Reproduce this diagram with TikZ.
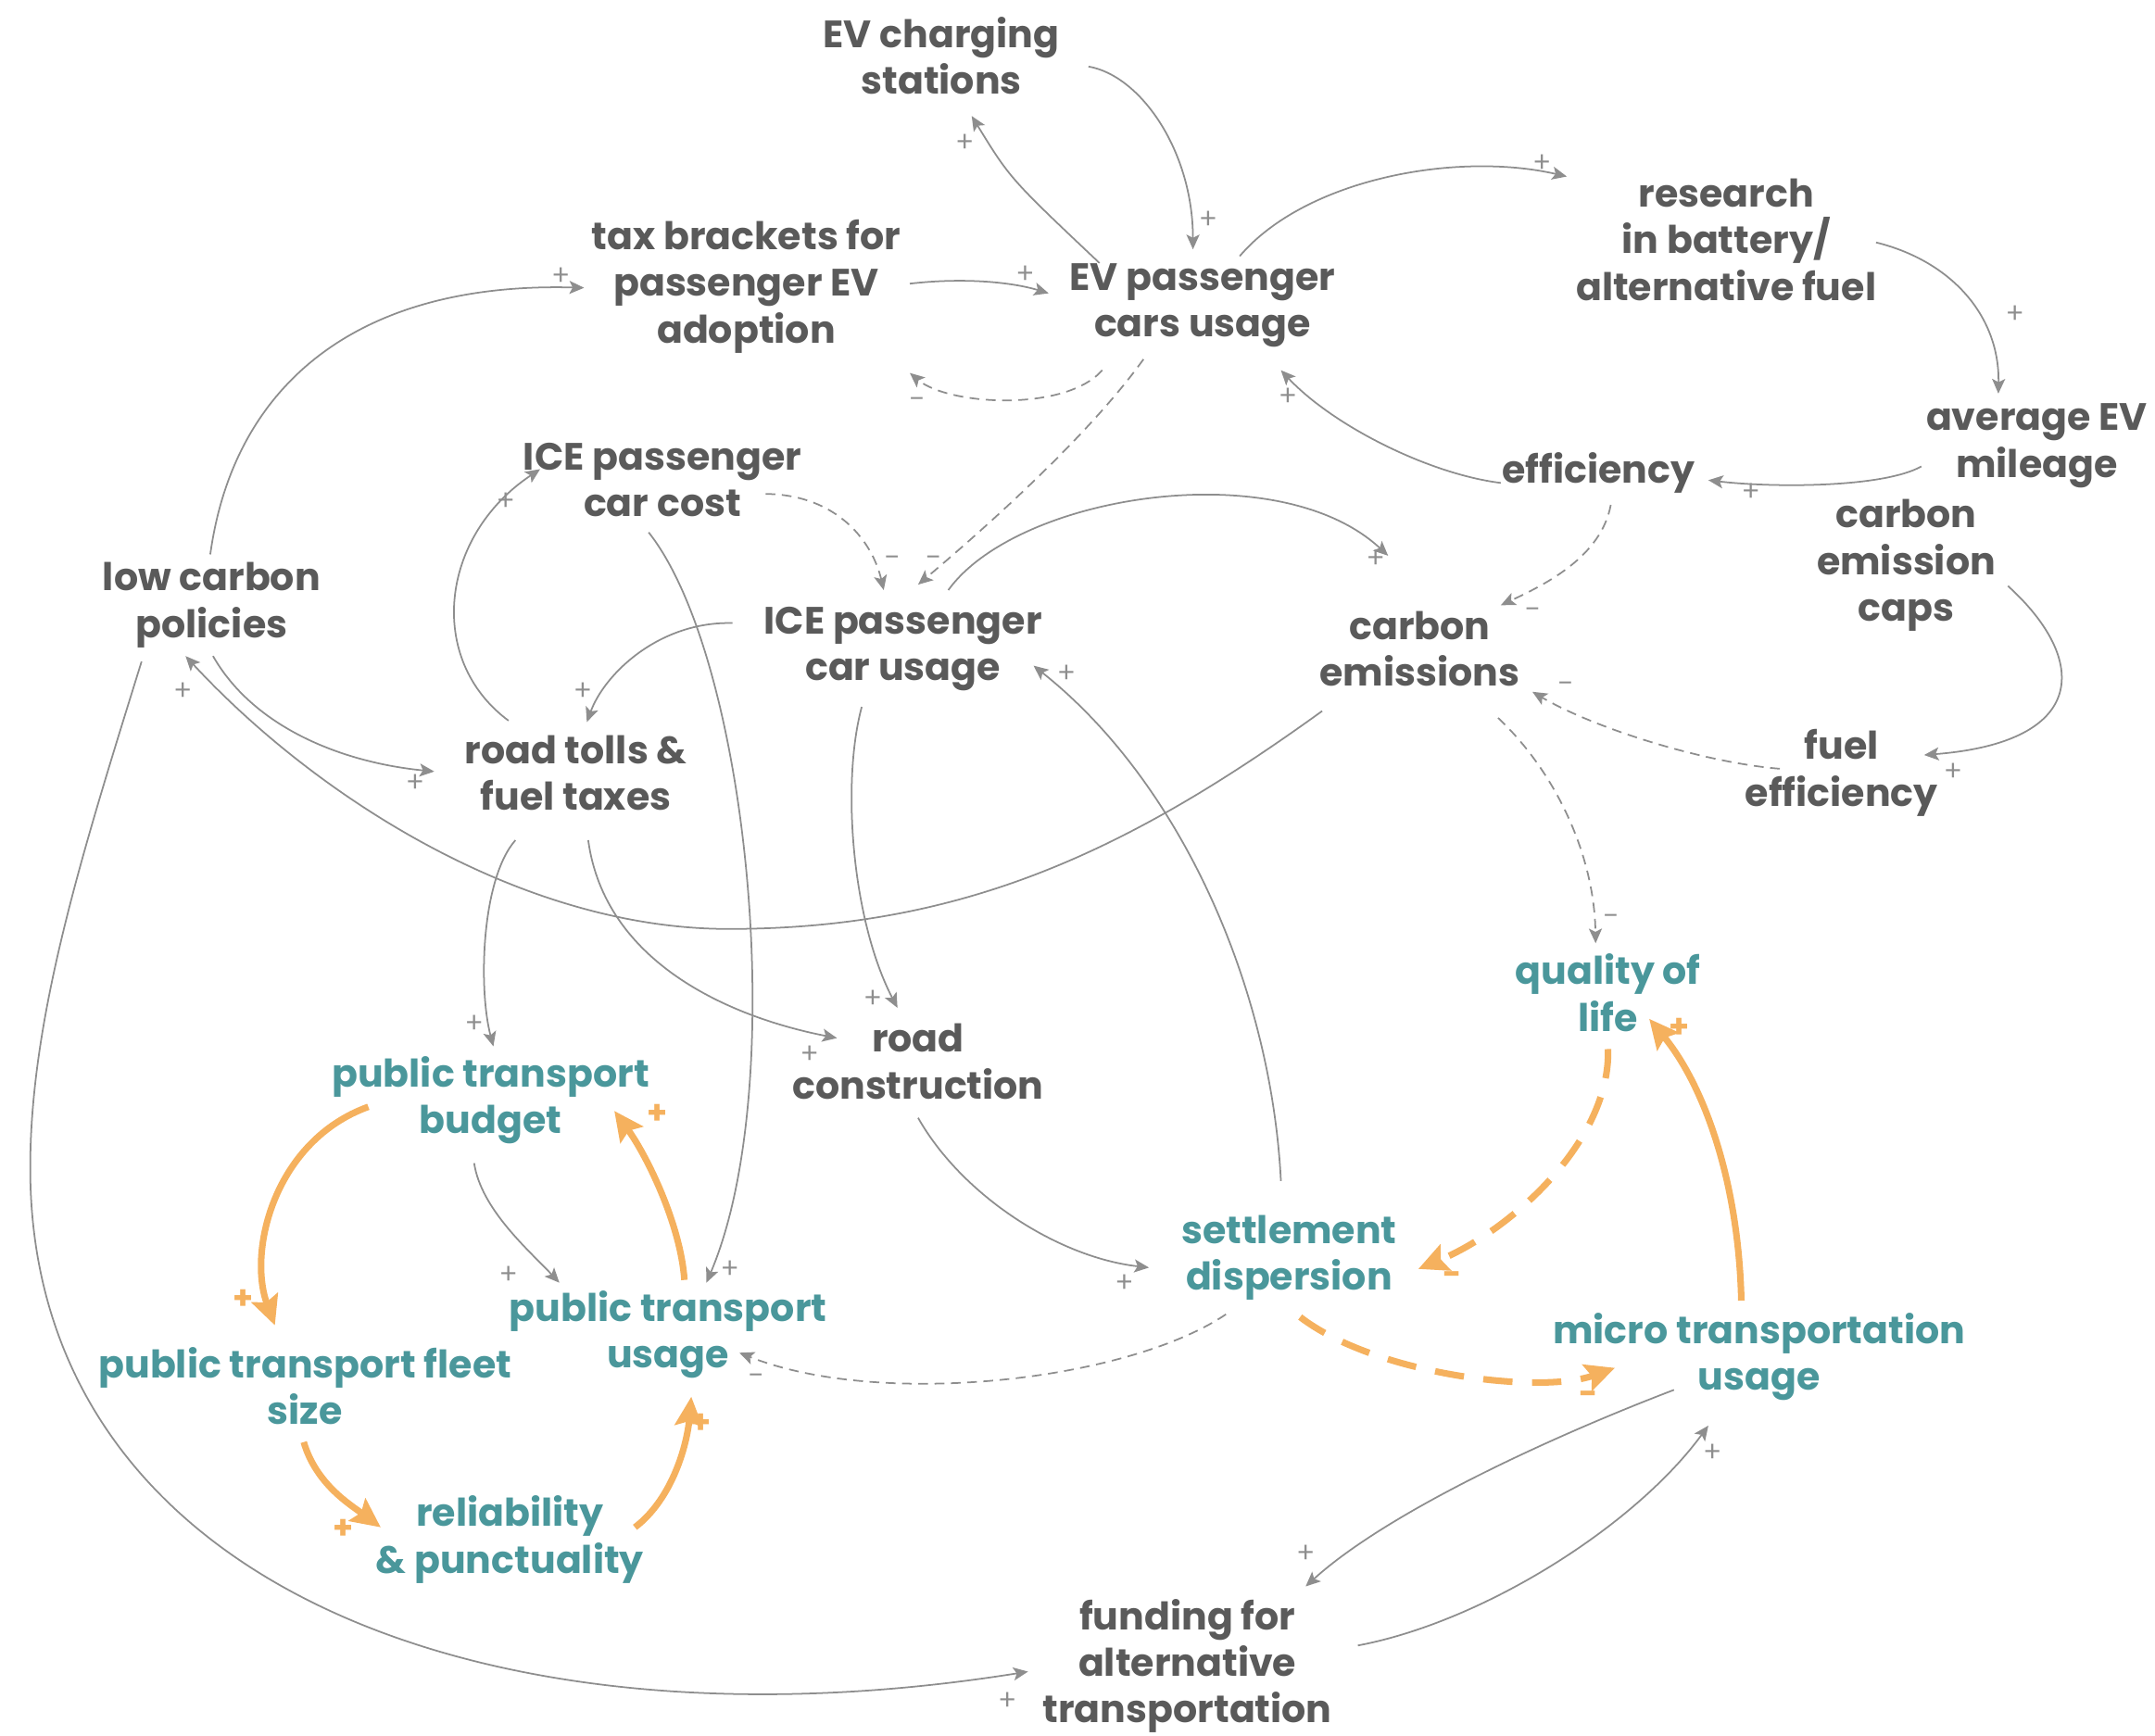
\documentclass[tikz,border=0pt]{standalone}
\usepackage{fontspec}
\setmainfont{Poppins}
\newfontfamily\signfont{Lato}
\usetikzlibrary{arrows.meta,calc}
\definecolor{txtgray}{HTML}{5A5A5A}
\definecolor{cteal}{HTML}{4A979B}
\definecolor{corange}{HTML}{F5B15E}
\definecolor{lgray}{HTML}{8E8E8E}
\begin{document}
\begin{tikzpicture}[x=0.014834cm,y=-0.014834cm,
  var/.style={font=\bfseries\fontsize{11.7}{14.3}\selectfont, align=center, text=txtgray, inner sep=0pt, yshift=-0.6pt},
  pvar/.style={var, text=cteal},
  link/.style={draw=lgray, line width=0.5pt, -{Stealth[length=4.5pt,width=4pt,inset=1pt]}},
  neg/.style={link, dash pattern=on 3pt off 2pt},
  olink/.style={draw=corange, line width=2pt, -{Stealth[length=9pt,width=8.5pt,inset=1.5pt]}},
  oneg/.style={olink, dash pattern=on 9pt off 6pt},
  sg/.style={font=\signfont\fontsize{9}{9}\selectfont, text=lgray, inner sep=0pt},
  osg/.style={font=\bfseries\fontsize{10}{10}\selectfont, text=corange, inner sep=0pt}]
\useasboundingbox (0,0) rectangle (1568,1263);
% nodes
\node[var] (evcs) at (685,39) {EV charging\\stations};
\node[var] (tax) at (543,207) {tax brackets for\\passenger EV\\adoption};
\node[var] (evu) at (875,221) {EV passenger\\cars usage};
\node[var] (res) at (1256,173) {research\\in battery/\\alternative fuel};
\node[var] (avg) at (1482,323) {average EV\\mileage};
\node[var] (eff) at (1163,343) {efficiency};
\node[var] (caps) at (1387,410) {carbon\\emission\\caps};
\node[var] (icec) at (482,348) {ICE passenger\\car cost};
\node[var] (lcp) at (154,439) {low carbon\\policies};
\node[var] (iceu) at (657,471) {ICE passenger\\car usage};
\node[var] (ce) at (1033,471) {carbon\\emissions};
\node[var] (toll) at (419,561) {road tolls \&\\fuel taxes};
\node[var] (fe) at (1340,561) {fuel\\efficiency};
\node[pvar] (qol) at (1170,721) {quality of\\life};
\node[var] (rc) at (668,771) {road\\construction};
\node[pvar] (ptb) at (357,799) {public transport\\budget};
\node[pvar] (sd) at (938,914) {settlement\\dispersion};
\node[pvar] (ptu) at (486,970) {public transport\\usage};
\node[pvar] (fleet) at (222,1007) {public transport fleet\\size};
\node[pvar] (micro) at (1280,986) {micro transportation\\usage};
\node[pvar] (rel) at (371,1119) {reliability\\\& punctuality};
\node[var] (fund) at (864,1211) {funding for\\alternative\\transportation};
% gray links
\draw[link] ($(evu)+(-75,-31)$) .. controls (735,130) .. ($(evcs)+(22,44)$);
\draw[link] ($(evcs)+(107,8)$) .. controls (830,55) and (868,110) .. ($(evu)+(-7,-41)$);
\draw[link] ($(tax)+(119,-2)$) .. controls (700,202) and (735,205) .. ($(evu)+(-112,-9)$);
\draw[neg] ($(evu)+(-73,47)$) .. controls (775,300) and (690,295) .. ($(tax)+(119,63)$);
\draw[link] ($(evu)+(27,-36)$) .. controls (950,130) and (1060,110) .. ($(res)+(-116,-46)$);
\draw[link] ($(res)+(109,2)$) .. controls (1420,190) and (1455,230) .. ($(avg)+(-28,-38)$);
\draw[link] ($(avg)+(-84,15)$) .. controls (1370,355) and (1290,355) .. ($(eff)+(80,5)$);
\draw[link] ($(eff)+(-71,7)$) .. controls (1040,345) and (970,310) .. ($(evu)+(57,47)$);
\draw[neg] ($(eff)+(9,23)$) .. controls (1165,405) and (1125,425) .. ($(ce)+(59,-32)$);
\draw[neg] ($(evu)+(-43,39)$) .. controls (790,320) and (710,390) .. ($(iceu)+(11,-47)$);
\draw[neg] ($(icec)+(75,10)$) .. controls (610,360) and (635,395) .. ($(iceu)+(-14,-43)$);
\draw[link] ($(iceu)+(33,-43)$) .. controls (740,360) and (930,330) .. ($(ce)+(-23,-68)$);
\draw[link] ($(caps)+(74,15)$) .. controls (1520,480) and (1520,540) .. ($(fe)+(60,-13)$);
\draw[neg] ($(fe)+(-45,-3)$) .. controls (1240,555) and (1160,530) .. ($(ce)+(82,31)$);
\draw[neg] ($(ce)+(57,50)$) .. controls (1130,560) and (1160,620) .. ($(qol)+(-9,-36)$);
\draw[link] ($(ce)+(-71,45)$) .. controls (820,620) and (700,676) .. (530,676) .. controls (380,676) and (230,580) .. ($(lcp)+(-19,37)$);
\draw[link] ($(lcp)+(-1,-37)$) .. controls (170,280) and (260,205) .. ($(tax)+(-118,1)$);
\draw[link] ($(lcp)+(1,37)$) .. controls (185,530) and (250,555) .. ($(toll)+(-103,-1)$);
\draw[link] ($(lcp)+(-51,41)$) .. controls (60,620) and (22,740) .. (22,850) .. controls (22,1150) and (350,1280) .. ($(fund)+(-116,4)$);
\draw[link] ($(toll)+(-49,-38)$) .. controls (310,480) and (320,390) .. ($(icec)+(-89,-8)$);
\draw[link] ($(iceu)+(-124,-19)$) .. controls (480,452) and (440,490) .. ($(toll)+(8,-37)$);
\draw[link] ($(icec)+(-10,38)$) .. controls (545,480) and (575,790) .. ($(ptu)+(28,-38)$);
\draw[link] ($(toll)+(-44,49)$) .. controls (350,640) and (348,720) .. ($(ptb)+(2,-39)$);
\draw[link] ($(toll)+(9,49)$) .. controls (440,700) and (530,740) .. ($(rc)+(-59,-17)$);
\draw[link] ($(iceu)+(-30,42)$) .. controls (612,570) and (620,670) .. ($(rc)+(-15,-39)$);
\draw[link] ($(sd)+(-6,-56)$) .. controls (925,720) and (860,570) .. ($(iceu)+(95,12)$);
\draw[link] ($(rc)+(0,41)$) .. controls (700,870) and (770,915) .. ($(sd)+(-102,7)$);
\draw[neg] ($(sd)+(-46,41)$) .. controls (820,1005) and (640,1025) .. ($(ptu)+(52,13)$);
\draw[link] ($(ptb)+(-12,46)$) .. controls (350,880) and (385,910) .. ($(ptu)+(-79,-38)$);
\draw[link] ($(micro)+(-62,24)$) .. controls (1130,1045) and (1010,1100) .. ($(fund)+(86,-58)$);
\draw[link] ($(fund)+(124,-15)$) .. controls (1080,1180) and (1190,1110) .. ($(micro)+(-37,50)$);
% orange links
\draw[olink] ($(ptb)+(-89,5)$) .. controls (200,830) and (180,910) .. ($(fleet)+(-22,-44)$);
\draw[olink] ($(fleet)+(-1,41)$) .. controls (230,1080) and (255,1095) .. ($(rel)+(-94,-9)$);
\draw[olink] ($(rel)+(91,-9)$) .. controls (490,1090) and (500,1050) .. ($(ptu)+(17,45)$);
\draw[olink] ($(ptu)+(12,-40)$) .. controls (495,890) and (470,840) .. ($(ptb)+(90,8)$);
\draw[oneg] ($(qol)+(0,41)$) .. controls (1172,830) and (1100,895) .. ($(sd)+(94,8)$);
\draw[oneg] ($(sd)+(8,43)$) .. controls (1000,1000) and (1120,1015) .. ($(micro)+(-105,8)$);
\draw[olink] ($(micro)+(-13,-41)$) .. controls (1265,860) and (1240,790) .. ($(qol)+(30,19)$);
% signs
\node[sg] (s1) at (702,104) {+};
\node[sg] (s2) at (879,160) {+};
\node[sg] (s3) at (746,200) {+};
\node[sg] (s4) at (667,293) {–};
\node[sg] (s5) at (1122,119) {+};
\node[sg] (s6) at (1466,229) {+};
\node[sg] (s7) at (1274,358) {+};
\node[sg] (s8) at (937,289) {+};
\node[sg] (s9) at (1115,446) {–};
\node[sg] (s10) at (679,408) {–};
\node[sg] (s11) at (649,408) {–};
\node[sg] (s12) at (1001,407) {+};
\node[sg] (s13) at (1421,562) {+};
\node[sg] (s14) at (1139,500) {–};
\node[sg] (s15) at (1172,669) {–};
\node[sg] (s16) at (133,503) {+};
\node[sg] (s17) at (408,201) {+};
\node[sg] (s18) at (302,570) {+};
\node[sg] (s19) at (733,1238) {+};
\node[sg] (s20) at (368,365) {+};
\node[sg] (s21) at (424,503) {+};
\node[sg] (s22) at (531,924) {+};
\node[sg] (s23) at (345,745) {+};
\node[sg] (s24) at (589,767) {+};
\node[sg] (s25) at (635,727) {+};
\node[sg] (s26) at (776,490) {+};
\node[sg] (s27) at (818,934) {+};
\node[sg] (s28) at (550,1003) {–};
\node[sg] (s29) at (370,928) {+};
\node[sg] (s30) at (950,1131) {+};
\node[sg] (s31) at (1246,1057) {+};
\node[osg] (o1) at (177,946) {+};
\node[osg] (o2) at (250,1113) {+};
\node[osg] (o3) at (510,1036) {+};
\node[osg] (o4) at (478,811) {+};
\node[osg] (o5) at (1057,930) {-};
\node[osg] (o6) at (1156,1017) {-};
\node[osg] (o7) at (1222,748) {+};
\end{tikzpicture}
\end{document}
